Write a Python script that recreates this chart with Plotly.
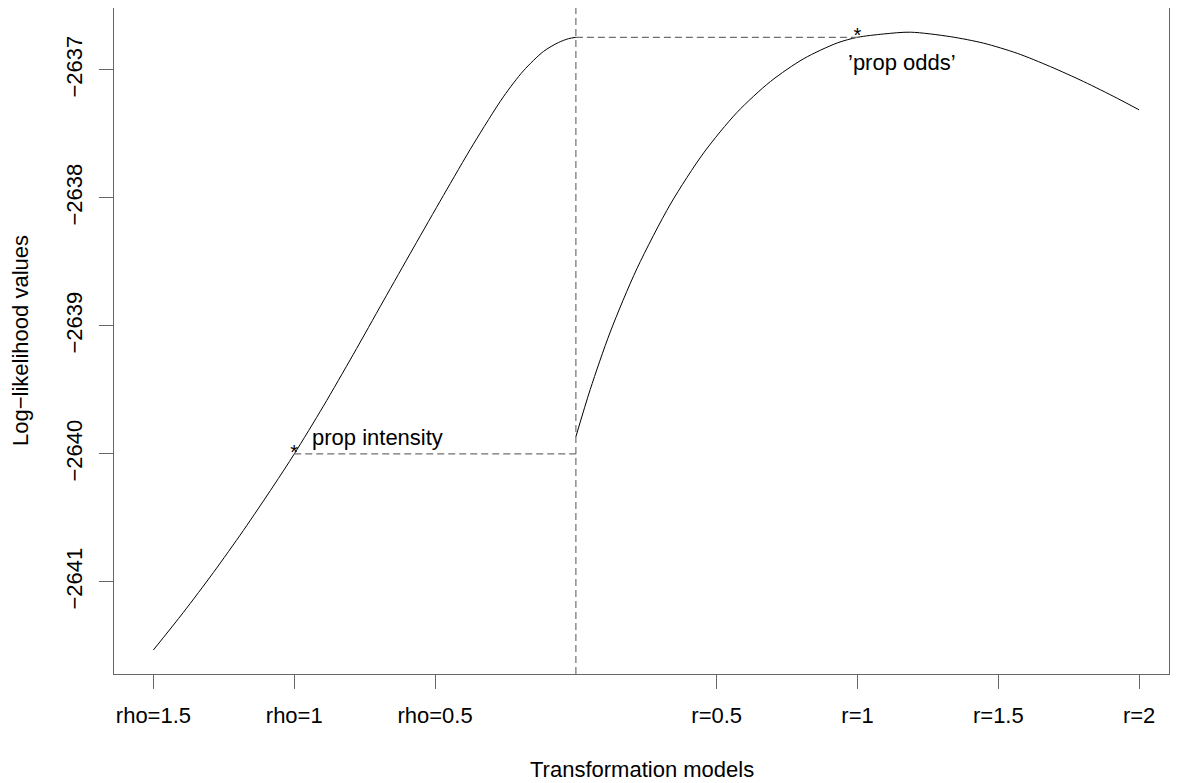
import plotly.graph_objects as go

# Left branch: rho models (x = -rho)
rho_x = [-1.5, -1.3938, -1.2873, -1.1808, -1.0742, -1.0, -0.8967, -0.7901, -0.6836,
         -0.5771, -0.4705, -0.3640, -0.2575, -0.1864, -0.1154, -0.0621, -0.0266, 0.0]
rho_ll = [-2641.531, -2641.238, -2640.927, -2640.598, -2640.251, -2640.000, -2639.627,
          -2639.221, -2638.805, -2638.391, -2637.981, -2637.580, -2637.210, -2637.007,
          -2636.856, -2636.786, -2636.756, -2636.745]

# Right branch: r models
r_x = [0.0, 0.051, 0.122, 0.217, 0.336, 0.454, 0.572, 0.691, 0.809, 0.928, 1.0,
       1.093, 1.188, 1.33, 1.448, 1.567, 1.685, 1.803, 1.922, 2.0]
r_ll = [-2639.865, -2639.496, -2639.047, -2638.551, -2638.047, -2637.647, -2637.332,
        -2637.090, -2636.912, -2636.789, -2636.745, -2636.719, -2636.705, -2636.740,
        -2636.791, -2636.870, -2636.974, -2637.091, -2637.221, -2637.312]

tick_vals = [-1.5, -1, -0.5, 0.5, 1, 1.5, 2]
tick_text = ["rho=1.5", "rho=1", "rho=0.5", "r=0.5", "r=1", "r=1.5", "r=2"]
y_ticks = [-2641, -2640, -2639, -2638, -2637]

pi_x, pi_y = -1.0, -2640.0          # prop intensity
po_x, po_y = 1.0, -2636.745         # prop odds

FONT = "Liberation Sans, Arial, Helvetica, sans-serif"
DASH = "#707070"

fig = go.Figure()
fig.add_trace(go.Scatter(x=rho_x, y=rho_ll, mode="lines", line_shape="spline",
                         line=dict(color="black", width=1, smoothing=0.8), hoverinfo="skip"))
fig.add_trace(go.Scatter(x=r_x, y=r_ll, mode="lines", line_shape="spline",
                         line=dict(color="black", width=1, smoothing=0.8), hoverinfo="skip"))
# dashed reference segments
fig.add_trace(go.Scatter(x=[pi_x, 0], y=[pi_y, pi_y], mode="lines",
                         line=dict(color=DASH, width=1.2, dash="7px,4px")))
fig.add_trace(go.Scatter(x=[0, po_x], y=[po_y, po_y], mode="lines",
                         line=dict(color=DASH, width=1.2, dash="7px,4px")))
fig.add_shape(type="line", x0=0, x1=0, xref="x", y0=0, y1=1, yref="paper",
              line=dict(color=DASH, width=1.2, dash="7px,4px"))
# star markers
fig.add_trace(go.Scatter(x=[pi_x, po_x], y=[pi_y, po_y], mode="text", text=["*", "*"],
                         textposition="middle center",
                         textfont=dict(family=FONT, size=20, color="black")))

fig.add_annotation(x=-0.943, y=-2639.87, text="prop intensity", showarrow=False,
                   xanchor="left", yanchor="middle",
                   font=dict(family=FONT, size=22, color="black"))
fig.add_annotation(x=0.96, y=-2636.945, text="\u2019prop odds\u2019", showarrow=False,
                   xanchor="left", yanchor="middle",
                   font=dict(family=FONT, size=22, color="black"))

# axis titles
fig.add_annotation(x=0.5, y=0, xref="paper", yref="paper", yshift=-95,
                   text="Transformation models", showarrow=False,
                   xanchor="center", yanchor="middle",
                   font=dict(family=FONT, size=22, color="black"))
fig.add_annotation(x=0, y=0.5, xref="paper", yref="paper", xshift=-94,
                   text="Log\u2212likelihood values", showarrow=False, textangle=-90,
                   xanchor="center", yanchor="middle",
                   font=dict(family=FONT, size=22, color="black"))

fig.update_layout(
    width=1172, height=775,
    margin=dict(l=106, r=11, t=0, b=109, pad=0),
    paper_bgcolor="white", plot_bgcolor="white",
    showlegend=False,
    font=dict(family=FONT, size=22, color="black"),
    xaxis=dict(range=[-1.640, 2.106], tickvals=tick_vals, ticktext=tick_text,
               ticks="outside", ticklen=14, tickcolor="#666", tickwidth=1,
               ticklabelstandoff=8,
               showgrid=False, zeroline=False, showline=True, mirror=True,
               linecolor="#666", linewidth=1,
               tickfont=dict(family=FONT, size=22, color="black")),
    yaxis=dict(range=[-2641.719, -2636.516], tickvals=y_ticks,
               ticks="outside", ticklen=14, tickcolor="#666", tickwidth=1,
               ticklabelstandoff=8,
               tickangle=-90, showgrid=False, zeroline=False, showline=True,
               mirror=True, linecolor="#666", linewidth=1,
               tickfont=dict(family=FONT, size=22, color="black")),
)

fig.write_html("out.html")
